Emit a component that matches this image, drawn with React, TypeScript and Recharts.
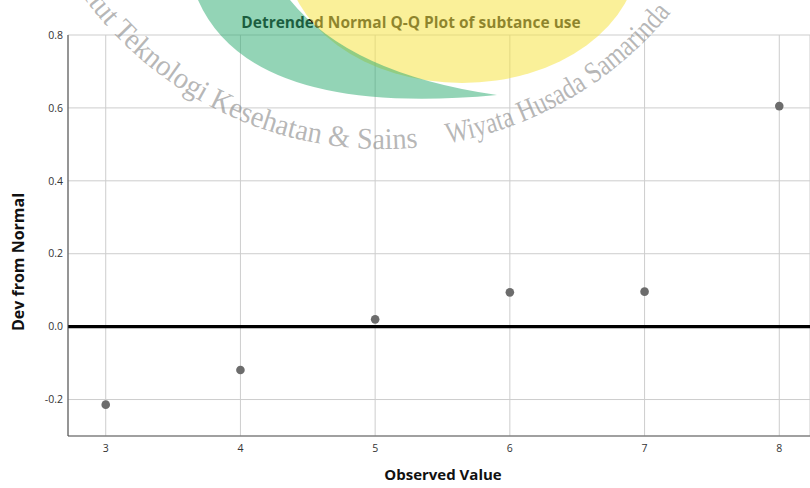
import React from 'react';
import { ScatterChart, Scatter, XAxis, YAxis, CartesianGrid, ReferenceLine } from 'recharts';

const observedValues = [3, 4, 5, 6, 7, 8];
const devFromNormal = [-0.214, -0.119, 0.02, 0.094, 0.096, 0.605];
const xTicks = [3, 4, 5, 6, 7, 8];
const yTicks = [-0.2, 0, 0.2, 0.4, 0.6, 0.8];

const titleText = 'Detrended Normal Q-Q Plot of subtance use';
const xLabel = 'Observed Value';
const yLabel = 'Dev from Normal';
const watermarkLeft = 'Institut Teknologi Kesehatan & Sains';
const watermarkRight = 'Wiyata Husada Samarinda';

const data = observedValues.map((x, i) => ({ x, y: devFromNormal[i] }));

const W = 810;
const H = 488;

const Dot = (props: any) => {
  const { cx, cy } = props;
  if (cx == null || cy == null) return null;
  return <circle cx={cx} cy={cy} r={4.3} fill="#6c6c6c" />;
};

export default function App() {
  const R = 372;
  const cx0 = 383;
  const cy0 = -223;
  const arc = `M ${cx0 - R} ${cy0} A ${R} ${R} 0 0 0 ${cx0 + R} ${cy0}`;
  const mid = (Math.PI * R) / 2;
  const wmStyle = {
    fontFamily: 'Liberation Serif',
    fontSize: 30,
    fill: 'rgba(135,135,135,0.6)',
  };
  return (
    <div style={{ position: 'absolute', left: 0, top: 0, width: W, height: H, background: '#fff' }}>
      <ScatterChart width={W} height={H} margin={{ top: 35, right: 0, bottom: 0, left: 0 }}>
        <CartesianGrid stroke="#cdcdcd" strokeWidth={1} />
        <XAxis
          type="number"
          dataKey="x"
          domain={[2.72, 8.228]}
          ticks={xTicks}
          allowDataOverflow
          height={52}
          tickLine={false}
          tickSize={0}
          tickMargin={9}
          axisLine={{ stroke: '#5a5a5a', strokeWidth: 1 }}
          tick={{ fontSize: 10.5, fill: '#333', fontFamily: 'Open Sans' }}
        />
        <YAxis
          type="number"
          dataKey="y"
          domain={[-0.3, 0.8]}
          ticks={yTicks}
          allowDataOverflow
          width={68}
          tickLine={false}
          tickSize={0}
          tickMargin={5}
          axisLine={{ stroke: '#444', strokeWidth: 1 }}
          tickFormatter={(v: number) => v.toFixed(1)}
          tick={{ fontSize: 10.5, fill: '#333', fontFamily: 'Open Sans' }}
        />
        <ReferenceLine y={0} stroke="#000" strokeWidth={3.2} />
        <Scatter data={data} shape={Dot} isAnimationActive={false} />
      </ScatterChart>
      <svg
        width={W}
        height={H}
        style={{ position: 'absolute', left: 0, top: 0, pointerEvents: 'none' }}
      >
        <text
          x={411}
          y={22}
          textAnchor="middle"
          dominantBaseline="central"
          fontFamily="Open Sans"
          fontWeight={700}
          fontSize={15.5}
          fill="#111"
        >
          {titleText}
        </text>
        <text
          x={443}
          y={474}
          textAnchor="middle"
          dominantBaseline="central"
          fontFamily="Open Sans"
          fontWeight={700}
          fontSize={15}
          fill="#111"
        >
          {xLabel}
        </text>
        <text
          x={18}
          y={262}
          textAnchor="middle"
          dominantBaseline="central"
          fontFamily="Open Sans"
          fontWeight={700}
          fontSize={16}
          fill="#111"
          transform="rotate(-90 18 262)"
        >
          {yLabel}
        </text>
        <ellipse cx={462} cy={-45} rx={176} ry={128} fill="rgba(246,228,70,0.55)" />
        <path
          d="M 198 0 Q 250 118 497 95 Q 350 74 290 0 Z"
          fill="rgba(40,170,110,0.5)"
        />
        <path id="wm-arc" d={arc} fill="none" stroke="none" />
        <text {...wmStyle}>
          <textPath
            href="#wm-arc"
            startOffset={mid - 392}
            textLength={427}
            lengthAdjust="spacingAndGlyphs"
          >
            {watermarkLeft}
          </textPath>
        </text>
        <text {...wmStyle}>
          <textPath
            href="#wm-arc"
            startOffset={mid + 65}
            textLength={264}
            lengthAdjust="spacingAndGlyphs"
          >
            {watermarkRight}
          </textPath>
        </text>
      </svg>
    </div>
  );
}
